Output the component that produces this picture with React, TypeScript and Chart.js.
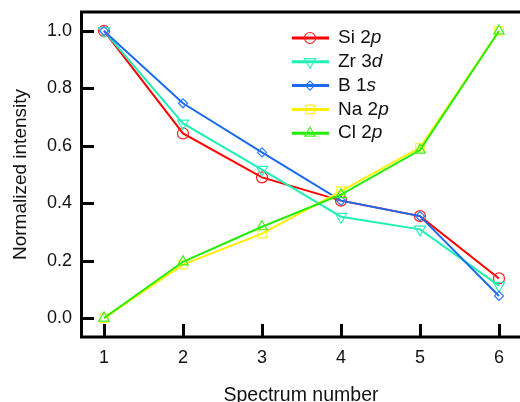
import React, { useEffect, useRef } from "react";
import { Chart, registerables } from "chart.js";

Chart.register(...registerables);

const spectra = [1, 2, 3, 4, 5, 6];
const xTickLabels = ["1", "2", "3", "4", "5", "6"];
const yTickValues = [0, 0.2, 0.4, 0.6, 0.8, 1.0];
const yTickLabels = ["0.0", "0.2", "0.4", "0.6", "0.8", "1.0"];

const si2p = [1.0, 0.643, 0.49, 0.409, 0.355, 0.138];
const zr3d = [1.0, 0.678, 0.517, 0.353, 0.309, 0.113];
const b1s = [1.0, 0.748, 0.577, 0.409, 0.355, 0.077];
const na2p = [0.0, 0.186, 0.294, 0.442, 0.594, 1.0];
const cl2p = [0.0, 0.196, 0.318, 0.430, 0.585, 1.0];

const seriesNames = ["Si 2", "Zr 3", "B 1", "Na 2", "Cl 2"];
const orbitals = ["p", "d", "s", "p", "p"];

const FONT = "'Liberation Sans', Arial, sans-serif";

const toPts = (ys: number[]) => ys.map((y, i) => ({ x: spectra[i], y }));

function drawMarker(ctx: CanvasRenderingContext2D, style: string, r: number, rot: number, x: number, y: number) {
  ctx.beginPath();
  if (style === "circle") {
    ctx.arc(x, y, r, 0, Math.PI * 2);
  } else if (style === "triangle") {
    const a0 = (rot * Math.PI) / 180 - Math.PI / 2;
    for (let k = 0; k < 3; k++) {
      const a = a0 + (k * 2 * Math.PI) / 3;
      const px = x + Math.cos(a) * r;
      const py = y + Math.sin(a) * r;
      if (k === 0) ctx.moveTo(px, py);
      else ctx.lineTo(px, py);
    }
    ctx.closePath();
  } else if (style === "rectRot") {
    ctx.moveTo(x, y - r);
    ctx.lineTo(x + r, y);
    ctx.lineTo(x, y + r);
    ctx.lineTo(x - r, y);
    ctx.closePath();
  } else if (style === "rect") {
    const s = r * Math.SQRT1_2;
    ctx.rect(x - s, y - s, 2 * s, 2 * s);
  }
  ctx.stroke();
}

const frame = {
  id: "frame",
  afterDatasetsDraw(chart: any) {
    const ctx = chart.ctx as CanvasRenderingContext2D;
    const { left, right, top, bottom } = chart.chartArea;
    const xs = chart.scales.x;
    const ys = chart.scales.y;
    ctx.save();
    ctx.strokeStyle = "#000";
    ctx.lineWidth = 3;
    ctx.lineCap = "butt";
    // axes
    ctx.beginPath();
    ctx.moveTo(left, top);
    ctx.lineTo(right, top);
    ctx.moveTo(left + 1.5, top - 1.5);
    ctx.lineTo(left + 1.5, bottom + 1.5);
    ctx.moveTo(left, bottom);
    ctx.lineTo(right, bottom);
    ctx.stroke();
    // ticks inward
    ctx.beginPath();
    spectra.forEach((v) => {
      const px = Math.round(xs.getPixelForValue(v)) + 0.5;
      ctx.moveTo(px, bottom);
      ctx.lineTo(px, bottom - 13);
    });
    yTickValues.forEach((v) => {
      const py = Math.round(ys.getPixelForValue(v)) + 0.5;
      ctx.moveTo(left, py);
      ctx.lineTo(left + 14, py);
    });
    ctx.stroke();
    // tick labels
    ctx.fillStyle = "#111";
    ctx.font = `18px ${FONT}`;
    ctx.textBaseline = "middle";
    ctx.textAlign = "center";
    spectra.forEach((v, i) => {
      ctx.fillText(xTickLabels[i], xs.getPixelForValue(v), bottom + 21);
    });
    ctx.textAlign = "right";
    yTickValues.forEach((v, i) => {
      ctx.fillText(yTickLabels[i], left - 8, ys.getPixelForValue(v));
    });
    // titles
    ctx.font = `19.5px ${FONT}`;
    ctx.textAlign = "center";
    ctx.fillText("Spectrum number", (left + right) / 2 + 1, bottom + 59);
    ctx.save();
    ctx.font = `19px ${FONT}`;
    ctx.translate(21, (top + bottom) / 2);
    ctx.rotate(-Math.PI / 2);
    ctx.fillText("Normalized intensity", 0, 0);
    ctx.restore();

    // legend
    const ds = chart.data.datasets;
    const lx0 = 292, lx1 = 329, mx = 310, tx = 338;
    ds.forEach((d: any, i: number) => {
      const y = 38 + i * 23.8;
      ctx.strokeStyle = d.borderColor;
      ctx.lineWidth = 3;
      ctx.beginPath();
      ctx.moveTo(lx0, y);
      ctx.lineTo(lx1, y);
      ctx.stroke();
      ctx.lineWidth = 1.2;
      ctx.strokeStyle = d.pointBorderColor;
      drawMarker(ctx, d.pointStyle, d.pointRadius, d.pointRotation || 0, mx, y);
      ctx.fillStyle = "#111";
      ctx.font = `19px ${FONT}`;
      ctx.textAlign = "left";
      ctx.textBaseline = "middle";
      ctx.fillText(seriesNames[i], tx, y);
      const w = ctx.measureText(seriesNames[i]).width;
      ctx.font = `italic 19px ${FONT}`;
      ctx.fillText(orbitals[i], tx + w, y);
    });
    ctx.restore();
  },
};

export default function App() {
  const ref = useRef<HTMLCanvasElement | null>(null);
  useEffect(() => {
    if (!ref.current) return;
    const mk = (label: string, data: number[], color: string, pcolor: string, style: string, radius: number, order: number, rot = 0) => ({
      label,
      data: toPts(data),
      borderColor: color,
      pointBorderColor: pcolor,
      pointBackgroundColor: "rgba(0,0,0,0)",
      borderWidth: 2,
      pointStyle: style,
      pointRadius: radius,
      pointRotation: rot,
      pointBorderWidth: 1.2,
      tension: 0,
      order,
    });
    const chart = new Chart(ref.current, {
      type: "line",
      data: {
        datasets: [
          mk("Si 2p", si2p, "#ff0000", "#ff2020", "circle", 5.5, 5),
          mk("Zr 3d", zr3d, "#1ff0b4", "#30f0c0", "triangle", 6.5, 4, 180),
          mk("B 1s", b1s, "#1a6af0", "#2a78ff", "rectRot", 4.5, 3),
          mk("Na 2p", na2p, "#ffee00", "#fff030", "rect", 6, 2),
          mk("Cl 2p", cl2p, "#22ee00", "#40f020", "triangle", 6, 1),
        ] as any,
      },
      options: {
        animation: false,
        responsive: false,
        devicePixelRatio: 1,
        layout: { autoPadding: false, padding: { left: 80, top: 12, right: 0, bottom: 65 } },
        plugins: { legend: { display: false }, tooltip: { enabled: false } },
        scales: {
          x: { type: "linear", min: 0.696, max: 6.266, display: false },
          y: { type: "linear", min: -0.066, max: 1.066, display: false },
        },
      },
      plugins: [frame],
    });
    return () => chart.destroy();
  }, []);
  return (
    <div style={{ position: "absolute", left: 0, top: 0, width: 520, height: 402, background: "#fff" }}>
      <canvas ref={ref} width={520} height={402} />
    </div>
  );
}
